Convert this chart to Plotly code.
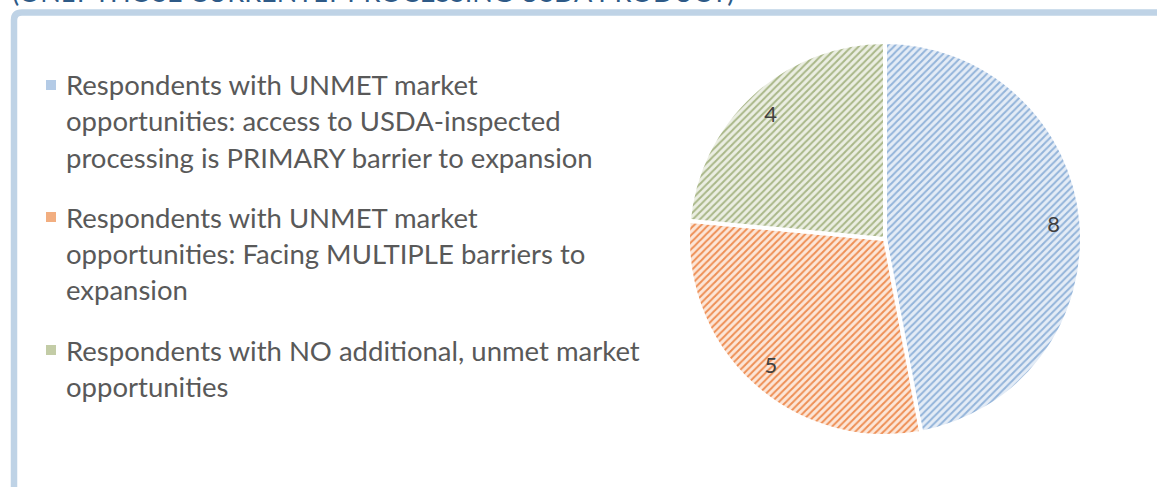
import plotly.graph_objects as go

# Survey counts per respondent group
label_lines = [
    ["Respondents with UNMET market",
     "opportunities: access to USDA-inspected",
     "processing is PRIMARY barrier to expansion"],
    ["Respondents with UNMET market",
     "opportunities: Facing MULTIPLE barriers to",
     "expansion"],
    ["Respondents with NO additional, unmet market",
     "opportunities"],
]
labels = [" ".join(lines) for lines in label_lines]
values = [8, 5, 4]

fill_bg = ["#E4ECF6", "#FCE6D8", "#EBEEE2"]
fill_fg = ["#93B4DA", "#EE8F55", "#A9B788"]
swatch = ["#B4CBE6", "#F2AE80", "#C3CCA6"]

title_text = "(ONLY THOSE CURRENTLY PROCESSING USDA PRODUCT)"
FONT = "Lato"
W, H = 1157, 487
pie_domain = dict(x=[688 / W, 1082 / W], y=[1 - 437 / H, 1 - 41 / H])

fig = go.Figure()
fig.add_trace(go.Pie(
    labels=labels,
    values=values,
    sort=False,
    direction="clockwise",
    rotation=0,
    textinfo="none",
    marker=dict(
        colors=fill_bg,
        line=dict(color="white", width=4),
        pattern=dict(shape="/", fgcolor=fill_fg, bgcolor=fill_bg,
                     size=5, solidity=0.4, fillmode="replace"),
    ),
    domain=pie_domain,
    showlegend=False,
    hoverinfo="label+value",
))

# Value labels sit in the outer ring of the pie
fig.add_trace(go.Pie(
    labels=labels,
    values=values,
    sort=False,
    direction="clockwise",
    rotation=0,
    hole=0.72,
    textinfo="value",
    textposition="inside",
    insidetextorientation="horizontal",
    textfont=dict(family=FONT, size=22, color="#404040"),
    marker=dict(colors=["rgba(0,0,0,0)"] * len(values), line=dict(width=0)),
    domain=pie_domain,
    showlegend=False,
    hoverinfo="skip",
))

# Frame around the chart area
shapes = [dict(
    type="path", xref="paper", yref="paper",
    path=f"M {14 / W},0 L {14 / W},{1 - 20 / H} Q {14 / W},{1 - 12.5 / H} {22 / W},{1 - 12.5 / H} L 1.01,{1 - 12.5 / H}",
    line=dict(color="#BFD3E6", width=6.5),
    layer="below",
)]

annotations = [dict(
    text=title_text, xref="paper", yref="paper",
    x=10 / W, y=1 - 10 / H, xanchor="left", yanchor="bottom",
    showarrow=False, font=dict(family=FONT, size=27, color="#2E5A87"),
)]

# Legend: swatch plus wrapped label lines
item_top = [85, 217, 350]
line_gap = 36
for i, lines in enumerate(label_lines):
    yc = item_top[i]
    shapes.append(dict(
        type="rect", xref="paper", yref="paper",
        x0=46 / W, x1=56 / W, y0=1 - (yc + 5) / H, y1=1 - (yc - 5) / H,
        fillcolor=swatch[i], line=dict(width=0),
    ))
    for j, line in enumerate(lines):
        annotations.append(dict(
            text=line, xref="paper", yref="paper",
            x=64 / W, y=1 - (yc + j * line_gap) / H,
            xanchor="left", yanchor="middle", showarrow=False,
            font=dict(family=FONT, size=27.5, color="#595959"),
        ))

fig.update_layout(
    width=W, height=H,
    margin=dict(l=0, r=0, t=0, b=0),
    paper_bgcolor="white",
    plot_bgcolor="white",
    shapes=shapes,
    annotations=annotations,
)

fig.write_html("out.html")
